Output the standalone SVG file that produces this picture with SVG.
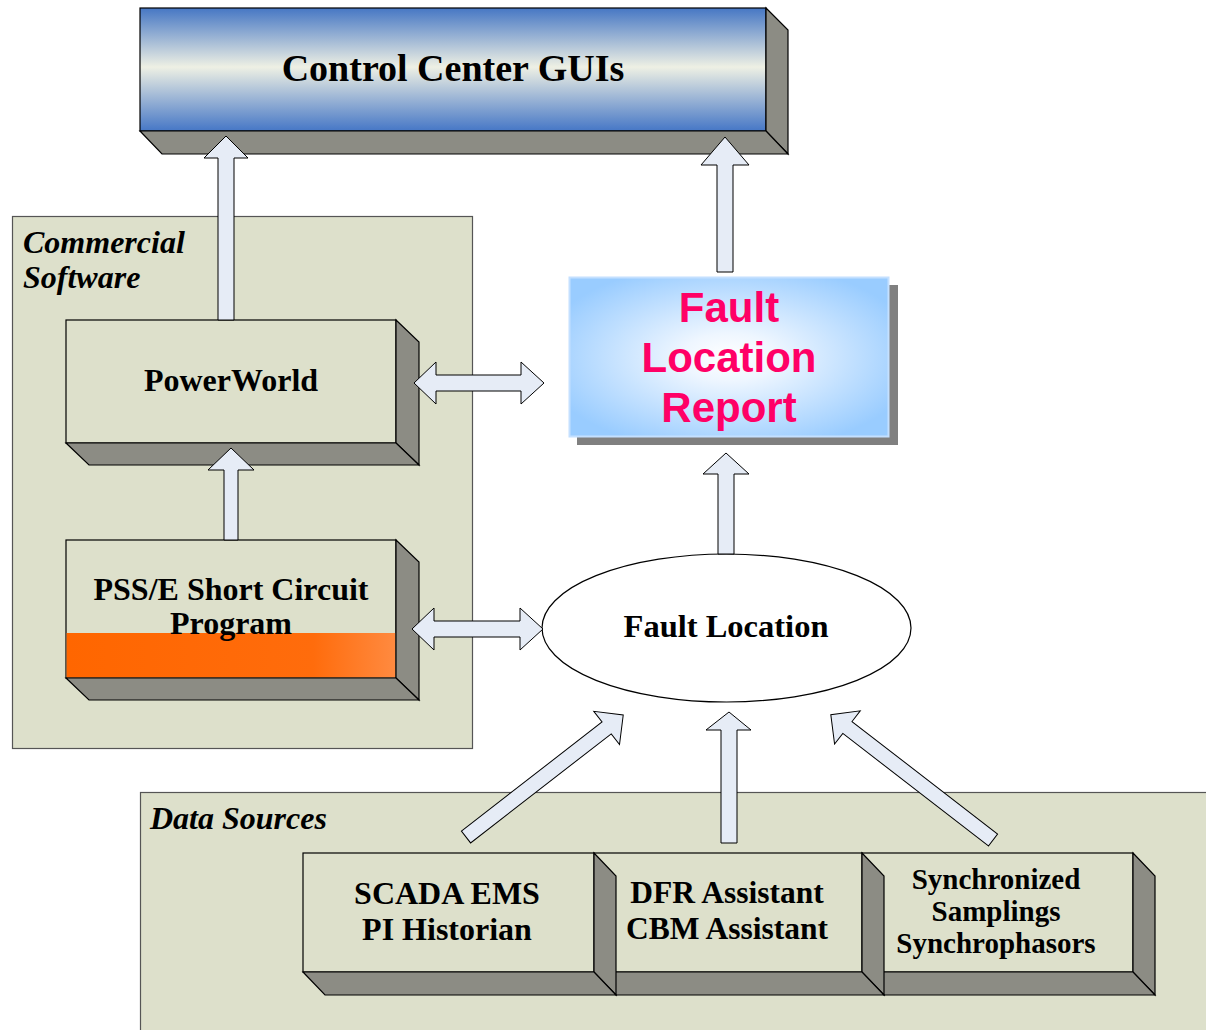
<svg xmlns="http://www.w3.org/2000/svg" width="1206" height="1030" viewBox="0 0 1206 1030">
<defs>
<linearGradient id="gBlue" x1="0" y1="0" x2="0" y2="1">
<stop offset="0" stop-color="#4677c4"/>
<stop offset="0.48" stop-color="#eef0e4"/>
<stop offset="1" stop-color="#4677c6"/>
</linearGradient>
<linearGradient id="gOrange" x1="0" y1="0" x2="1" y2="0">
<stop offset="0" stop-color="#ff6600"/>
<stop offset="0.75" stop-color="#ff6c0c"/>
<stop offset="1" stop-color="#ff8a40"/>
</linearGradient>
<radialGradient id="gReport" cx="0.5" cy="0.5" r="0.6">
<stop offset="0" stop-color="#ffffff"/>
<stop offset="0.25" stop-color="#eef6ff"/>
<stop offset="1" stop-color="#99ccff"/>
</radialGradient>
<style>
.cont{fill:#dde0cb;stroke:#555;stroke-width:1.2}
.front{fill:#dde0cb;stroke:#000;stroke-width:1.2}
.side{fill:#8c8c84;stroke:#000;stroke-width:1.2}
.arr{fill:#e6ecf6;stroke:#000;stroke-width:1}
.tb{font-family:"Liberation Serif","Times New Roman",serif;font-weight:bold;fill:#000;text-anchor:middle}
.ti{font-family:"Liberation Serif","Times New Roman",serif;font-weight:bold;font-style:italic;fill:#000}
.tr{font-family:"Liberation Sans",Arial,sans-serif;font-weight:bold;fill:#ff0066;text-anchor:middle;font-size:42px}
</style>
</defs>
<rect width="1206" height="1030" fill="#ffffff"/>

<g id="commercial-software">
<rect class="cont" x="12.5" y="216.5" width="460" height="532"/>
<text class="ti" x="23" y="253" font-size="32">Commercial</text>
<text class="ti" x="23" y="288" font-size="32">Software</text>
</g>

<g id="data-sources">
<rect class="cont" x="140.5" y="792.5" width="1070" height="245"/>
<text class="ti" x="150" y="829" font-size="32">Data Sources</text>
</g>

<g id="control-center-guis">
<rect x="140" y="8" width="626" height="123" fill="url(#gBlue)" stroke="#000" stroke-width="1.2"/>
<polygon class="side" points="766,8 788,30 788,154 766,131"/>
<polygon class="side" points="140,131 766,131 788,154 162,154"/>
<text class="tb" x="453" y="81" font-size="38">Control Center GUIs</text>
</g>

<g id="powerworld">
<rect class="front" x="66" y="320" width="330" height="123"/>
<polygon class="side" points="396,320 419,342 419,465 396,443"/>
<polygon class="side" points="66,443 396,443 419,465 89,465"/>
<text class="tb" x="231" y="391" font-size="32">PowerWorld</text>
</g>

<g id="pss-e">
<rect class="front" x="66" y="540" width="330" height="138"/>
<rect x="66.6" y="633" width="328.8" height="44.4" fill="url(#gOrange)"/>
<polygon class="side" points="396,540 419,562 419,700 396,678"/>
<polygon class="side" points="66,678 396,678 419,700 89,700"/>
<text class="tb" x="231" y="600" font-size="32">PSS/E Short Circuit</text>
<text class="tb" x="231" y="634" font-size="32">Program</text>
</g>

<g id="fault-location-report">
<rect x="577" y="285" width="321" height="160" fill="#808080"/>
<rect x="569.5" y="277.5" width="319" height="159" fill="url(#gReport)" stroke="#c4e0ff" stroke-width="2"/>
<text class="tr" x="729" y="322">Fault</text>
<text class="tr" x="729" y="372">Location</text>
<text class="tr" x="729" y="422">Report</text>
</g>

<g id="fault-location">
<ellipse cx="726.5" cy="628" rx="184.5" ry="74" fill="#ffffff" stroke="#000" stroke-width="1.2"/>
<text class="tb" x="726" y="637" font-size="32.5">Fault Location</text>
</g>

<g id="synchronized">
<rect class="front" x="862" y="853" width="271" height="119"/>
<polygon class="side" points="1133,853 1155,876 1155,995 1133,972"/>
<polygon class="side" points="862,972 1133,972 1155,995 884,995"/>
<text class="tb" x="996" y="889" font-size="29">Synchronized</text>
<text class="tb" x="996" y="921" font-size="29">Samplings</text>
<text class="tb" x="996" y="953" font-size="29">Synchrophasors</text>
</g>

<g id="dfr-cbm">
<rect class="front" x="594" y="853" width="268" height="119"/>
<polygon class="side" points="862,853 884,876 884,995 862,972"/>
<polygon class="side" points="594,972 862,972 884,995 616,995"/>
<text class="tb" x="727" y="903" font-size="31.5">DFR Assistant</text>
<text class="tb" x="727" y="939" font-size="31.5">CBM Assistant</text>
</g>

<g id="scada-ems">
<rect class="front" x="303" y="853" width="291" height="119"/>
<polygon class="side" points="594,853 616,876 616,995 594,972"/>
<polygon class="side" points="303,972 594,972 616,995 325,995"/>
<text class="tb" x="447" y="904" font-size="32">SCADA EMS</text>
<text class="tb" x="447" y="940" font-size="32">PI Historian</text>
</g>

<g id="connectors">
<polygon class="arr" points="226,136 248,158 234,158 234,320 218,320 218,158 204,158"/>
<polygon class="arr" points="725,137 749,165 733,165 733,272 717,272 717,165 701,165"/>
<polygon class="arr" points="726,453 749,474 734,474 734,554 718,554 718,474 703,474"/>
<polygon class="arr" points="231,448 254,470 238,470 238,540 224,540 224,470 208,470"/>
<polygon class="arr" points="414,383 436,362 436,375 521,375 521,362 544,383 521,404 521,391 436,391 436,404"/>
<polygon class="arr" points="412,629 434,608 434,621 520,621 520,608 543,629 520,650 520,637 434,637 434,650"/>
<polygon class="arr" transform="translate(466,837) rotate(-37.8)" points="0,-7.5 178,-7.5 178,-21 199,0 178,21 178,7.5 0,7.5"/>
<polygon class="arr" points="729,712 751,730 737,730 737,843 721,843 721,730 706,730"/>
<polygon class="arr" transform="translate(993,840) rotate(-142.3)" points="0,-7.5 184,-7.5 184,-21 205,0 184,21 184,7.5 0,7.5"/>
</g>
</svg>
